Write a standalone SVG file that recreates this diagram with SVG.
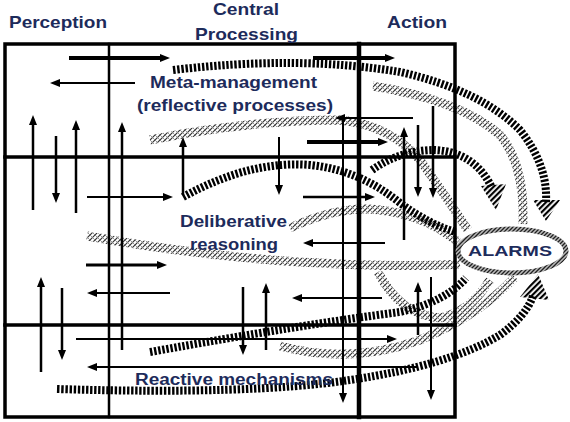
<svg xmlns="http://www.w3.org/2000/svg" width="570" height="422" viewBox="0 0 570 422">
<defs>
<style>
.lbl{font-family:"Liberation Sans",Arial,sans-serif;font-weight:bold;fill:#1d2b5b;}
.grid{stroke:#000;fill:none;stroke-linecap:square;}
.ar{stroke:#000;fill:none;marker-end:url(#ah);}
.dark{fill:none;stroke:#000;stroke-width:8;stroke-dasharray:2.4 1.7;}
.gray{fill:none;stroke:url(#gp);stroke-width:9;}
.dhead{fill:url(#dp);}
</style>
<marker id="ah" viewBox="0 0 10 8" refX="4" refY="4" markerWidth="10" markerHeight="8" markerUnits="userSpaceOnUse" orient="auto">
<path d="M0,0L10,4L0,8z" fill="#000"/>
</marker>
<pattern id="gp" width="5" height="5" patternUnits="userSpaceOnUse">
<path d="M0,5L5,0M-1,1L1,-1M4,6L6,4" stroke="#333" stroke-width="1.2"/>
<path d="M0,0L5,5" stroke="#888" stroke-width="0.9"/>
</pattern>
<pattern id="ep" width="4" height="4" patternUnits="userSpaceOnUse">
<rect width="4" height="4" fill="#bbb"/>
<path d="M0,4L4,0M-1,1L1,-1M3,5L5,3" stroke="#222" stroke-width="1.3"/>
</pattern>
<pattern id="dp" width="4" height="4" patternUnits="userSpaceOnUse" patternTransform="rotate(45)">
<rect width="2.2" height="4" fill="#000"/>
</pattern>
</defs>
<rect width="570" height="422" fill="#fff"/>

<g id="bands">
<path class="gray" d="M150,140 Q250,120 340,120 Q390,125 420,160 Q445,195 468,230"/>
<path class="gray" d="M373,86 Q460,100 500,135 Q525,165 523,224"/>
<path class="gray" d="M290,228 Q340,205 380,210 Q425,215 458,242"/>
<path class="gray" d="M87,236 Q200,256 300,262 Q400,268 460,264"/>
<path class="gray" d="M280,346 Q350,365 420,340 Q480,315 515,277"/>
<path class="gray" d="M378,272 Q400,315 440,318 Q470,312 490,280"/>
<path class="dark" d="M173,70 Q300,55 400,72 Q480,90 520,130 Q548,165 546,202"/>
<polygon class="dhead" points="533,200 560,200 546,221"/>
<path class="dark" d="M183,197 Q250,160 310,165 Q360,170 400,203 Q430,225 456,232"/>
<path class="dark" d="M372,170 Q400,150 435,150 Q475,152 492,188"/>
<polygon class="dhead" points="481,186 506,184 496,210"/>
<path class="dark" d="M150,352 Q300,325 400,312 Q445,302 466,278"/>
<path class="dark" d="M57,389 Q250,395 350,380 Q450,365 500,335 Q526,316 533,296"/>
<polygon class="dhead" points="520,297 549,300 538,274"/>
</g>

<g id="grid">
<path class="grid" d="M5,44H455V417H5Z" stroke-width="3.5"/>
<path class="grid" d="M5,157H455M5,325H455" stroke-width="3.5"/>
<path class="grid" d="M109,44V417" stroke-width="2.5"/>
<path class="grid" d="M359,44V417" stroke-width="4.5"/>
</g>

<g id="connectors">
<path class="ar" stroke-width="4" d="M69,58H164"/>
<path class="ar" stroke-width="2" d="M135,83H56"/>
<path class="ar" stroke-width="2.5" d="M33,210V121"/>
<path class="ar" stroke-width="2.5" d="M56,136V197"/>
<path class="ar" stroke-width="2.5" d="M76,213V126"/>
<path class="ar" stroke-width="2.5" d="M122,350V128"/>
<path class="ar" stroke-width="2.5" d="M183,195V143"/>
<path class="ar" stroke-width="2" d="M279,137V189"/>
<path class="ar" stroke-width="4" d="M313,58H389"/>
<path class="ar" stroke-width="2" d="M413,118H341"/>
<path class="ar" stroke-width="4" d="M307,142H382"/>
<path class="ar" stroke-width="2" d="M343,118V397"/>
<path class="ar" stroke-width="2.5" d="M404,240V133"/>
<path class="ar" stroke-width="2.5" d="M418,125V191"/>
<path class="ar" stroke-width="2.5" d="M433,106V192"/>
<path class="ar" stroke-width="1.8" d="M87,197H167"/>
<path class="ar" stroke-width="2.5" d="M303,197H369"/>
<path class="ar" stroke-width="2" d="M385,243H309"/>
<path class="ar" stroke-width="3" d="M86,265H161"/>
<path class="ar" stroke-width="2.5" d="M41,372V283"/>
<path class="ar" stroke-width="2.5" d="M62,288V354"/>
<path class="ar" stroke-width="2" d="M170,293H93"/>
<path class="ar" stroke-width="2.5" d="M243,287V349"/>
<path class="ar" stroke-width="2.5" d="M266,350V289"/>
<path class="ar" stroke-width="2" d="M382,298H298"/>
<path class="ar" stroke-width="2.5" d="M418,335V288"/>
<path class="ar" stroke-width="2" d="M431,277V394"/>
<path class="ar" stroke-width="1.8" d="M76,339H391"/>
<path class="ar" stroke-width="1.8" d="M418,367H93"/>
</g>

<g id="alarms">
<ellipse cx="512" cy="251" rx="54" ry="22" fill="#fff" stroke="url(#ep)" stroke-width="5"/>
<text class="lbl" x="468" y="256" font-size="15" textLength="84" lengthAdjust="spacingAndGlyphs">ALARMS</text>
</g>

<g id="perception-label"><text class="lbl" x="9" y="28" font-size="17" textLength="98" lengthAdjust="spacingAndGlyphs">Perception</text></g>
<g id="central-label">
<text class="lbl" x="213" y="15" font-size="17" textLength="66" lengthAdjust="spacingAndGlyphs">Central</text>
<text class="lbl" x="195" y="40" font-size="17" textLength="103" lengthAdjust="spacingAndGlyphs">Processing</text>
</g>
<g id="action-label"><text class="lbl" x="387" y="28" font-size="17" textLength="60" lengthAdjust="spacingAndGlyphs">Action</text></g>

<g id="meta">
<text class="lbl" x="150" y="88" font-size="16" textLength="167" lengthAdjust="spacingAndGlyphs">Meta-management</text>
<text class="lbl" x="137" y="111" font-size="16" textLength="196" lengthAdjust="spacingAndGlyphs">(reflective processes)</text>
</g>
<g id="deliberative">
<text class="lbl" x="180" y="227" font-size="17" textLength="107" lengthAdjust="spacingAndGlyphs">Deliberative</text>
<text class="lbl" x="190" y="250" font-size="17" textLength="88" lengthAdjust="spacingAndGlyphs">reasoning</text>
</g>
<g id="reactive">
<text class="lbl" x="135" y="385" font-size="16" textLength="198" lengthAdjust="spacingAndGlyphs">Reactive mechanisms</text>
</g>
</svg>
